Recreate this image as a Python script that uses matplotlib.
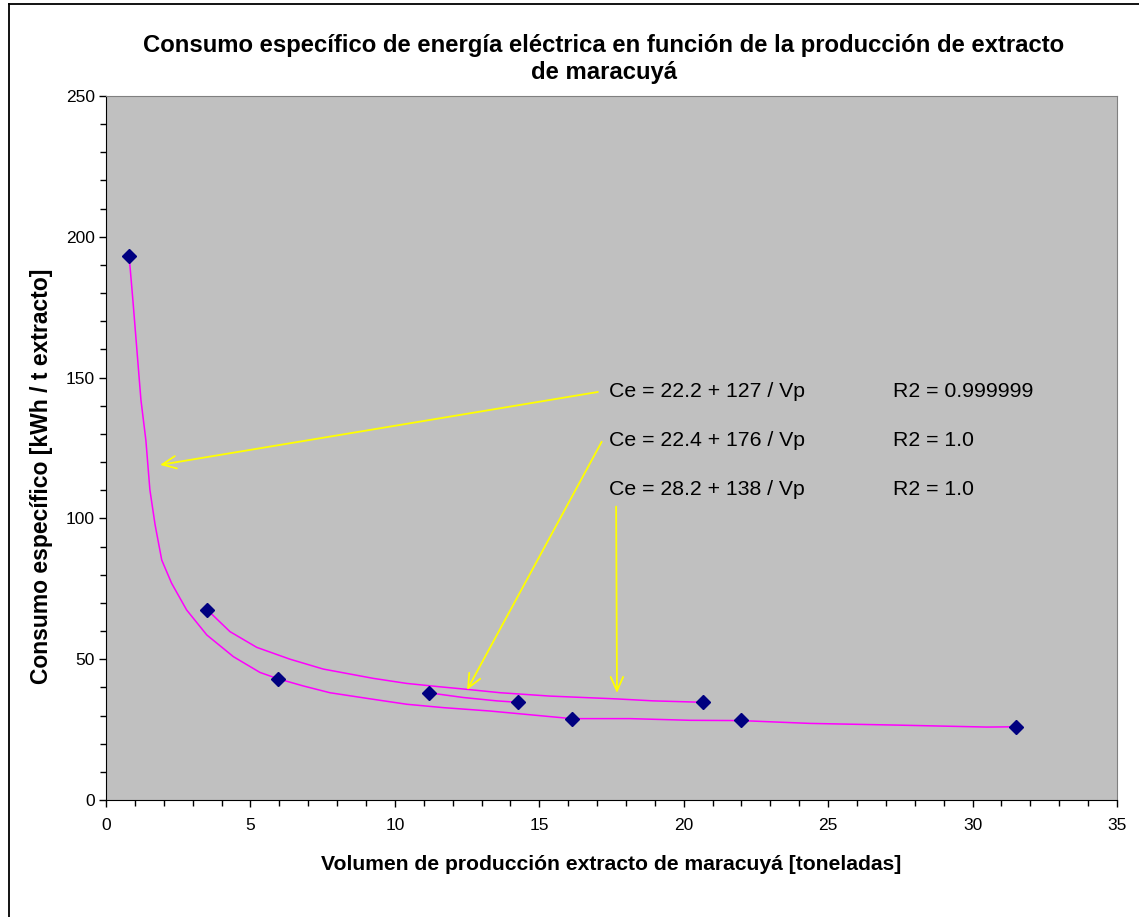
import matplotlib
matplotlib.use("Agg")
import matplotlib.pyplot as plt
from matplotlib.lines import Line2D
from matplotlib.ticker import MultipleLocator

plt.rcParams["font.family"] = ["Liberation Sans", "DejaVu Sans"]

# measured points (toneladas, kWh/t)
s1_x = [0.80, 5.94, 16.12, 21.97, 31.50]
s1_y = [193.2, 43.1, 28.9, 28.4, 26.0]
s2_x = [3.51, 20.66]
s2_y = [67.5, 34.7]
s3_x = [11.19, 14.25]
s3_y = [38.1, 34.7]

# trend curves as drawn in the chart
t1_x = [0.80, 0.93, 1.07, 1.21, 1.38, 1.52, 1.70, 1.93, 2.27, 2.79, 3.49, 4.41, 5.33,
        5.94, 6.83, 7.75, 9.03, 10.41, 11.68, 13.29, 16.12, 18.14, 20.22, 21.97,
        24.37, 27.37, 30.49, 31.50]
t1_y = [193.2, 177.6, 159.8, 142.0, 127.8, 110.1, 97.7, 85.2, 77.0, 67.5, 58.6, 50.9, 45.3,
        43.1, 40.5, 38.1, 36.1, 34.0, 32.8, 31.6, 28.9, 28.9, 28.3, 28.2,
        27.2, 26.6, 25.9, 26.0]
t2_x = [3.51, 4.29, 5.22, 6.37, 7.52, 9.25, 10.41, 11.56, 12.49, 13.64, 15.37, 17.68, 18.95, 20.66]
t2_y = [67.5, 59.8, 54.2, 50.0, 46.5, 43.2, 41.4, 40.2, 39.3, 38.1, 36.9, 35.9, 35.2, 34.7]
t3_x = [11.19, 11.51, 12.37, 13.53, 14.25]
t3_y = [38.1, 37.6, 36.4, 35.2, 34.7]

eqs = ["Ce = 22.2 + 127 / Vp", "Ce = 22.4 + 176 / Vp", "Ce = 28.2 + 138 / Vp"]
r2s = ["R2 = 0.999999", "R2 = 1.0", "R2 = 1.0"]
arrow_tips = [(1.87, 119.0), (12.50, 39.1), (17.69, 38.0)]
arrow_tails = [(17.03, 144.9), (17.16, 127.2), (17.66, 104.2)]

fig = plt.figure(figsize=(11.39, 9.17), dpi=100)
ax = fig.add_axes([106/1139, 117/917, 1011/1139, 704/917])
ax.set_facecolor("#C0C0C0")

for tx, ty in [(t1_x, t1_y), (t2_x, t2_y), (t3_x, t3_y)]:
    ax.plot(tx, ty, color="#FF00FF", lw=1.1, zorder=2)
for sx, sy in [(s1_x, s1_y), (s2_x, s2_y), (s3_x, s3_y)]:
    ax.plot(sx, sy, "D", color="#000080", ms=7, ls="none", zorder=3)

text_y = [144.9, 127.5, 110.1]
for i in range(3):
    ax.annotate("", xy=arrow_tips[i], xytext=arrow_tails[i],
                arrowprops=dict(arrowstyle="->,head_length=1.0,head_width=0.45",
                                color="#FFFF00", lw=1.3, shrinkA=0, shrinkB=0), zorder=4)
    ax.text(17.41, text_y[i], eqs[i], fontsize=15.3, va="center", ha="left")
    ax.text(27.25, text_y[i], r2s[i], fontsize=15.3, va="center", ha="left")

ax.set_xlim(0, 35)
ax.set_ylim(0, 250)
ax.xaxis.set_major_locator(MultipleLocator(5))
ax.xaxis.set_minor_locator(MultipleLocator(1))
ax.yaxis.set_major_locator(MultipleLocator(50))
ax.yaxis.set_minor_locator(MultipleLocator(10))
ax.tick_params(which="major", length=5, width=1, labelsize=12.5)
ax.tick_params(which="minor", length=4, width=1)
ax.tick_params(axis="x", which="major", pad=8)
ax.tick_params(axis="y", which="major", pad=3)
for s in ["left", "bottom"]:
    ax.spines[s].set_color("black")
for s in ["top", "right"]:
    ax.spines[s].set_color("#808080")

ax.set_xlabel("Volumen de producción extracto de maracuyá [toneladas]",
              fontsize=15.2, fontweight="bold", labelpad=16)
ax.set_ylabel("Consumo específico [kWh / t extracto]",
              fontsize=16.5, fontweight="bold")
ax.yaxis.set_label_coords(-0.052, 0.46)

fig.text(604/1139, 1 - 59/917,
         "Consumo específico de energía eléctrica en función de la producción de extracto\nde maracuyá",
         ha="center", va="center", fontsize=17.2, fontweight="bold", linespacing=1.2)

# chart area border
fig.add_artist(Line2D([8.5/1139, 8.5/1139], [0, 1 - 3.5/917], color="black", lw=1.3))
fig.add_artist(Line2D([8.5/1139, 1], [1 - 3.5/917, 1 - 3.5/917], color="black", lw=1.3))

fig.savefig("out.png", dpi=100)
